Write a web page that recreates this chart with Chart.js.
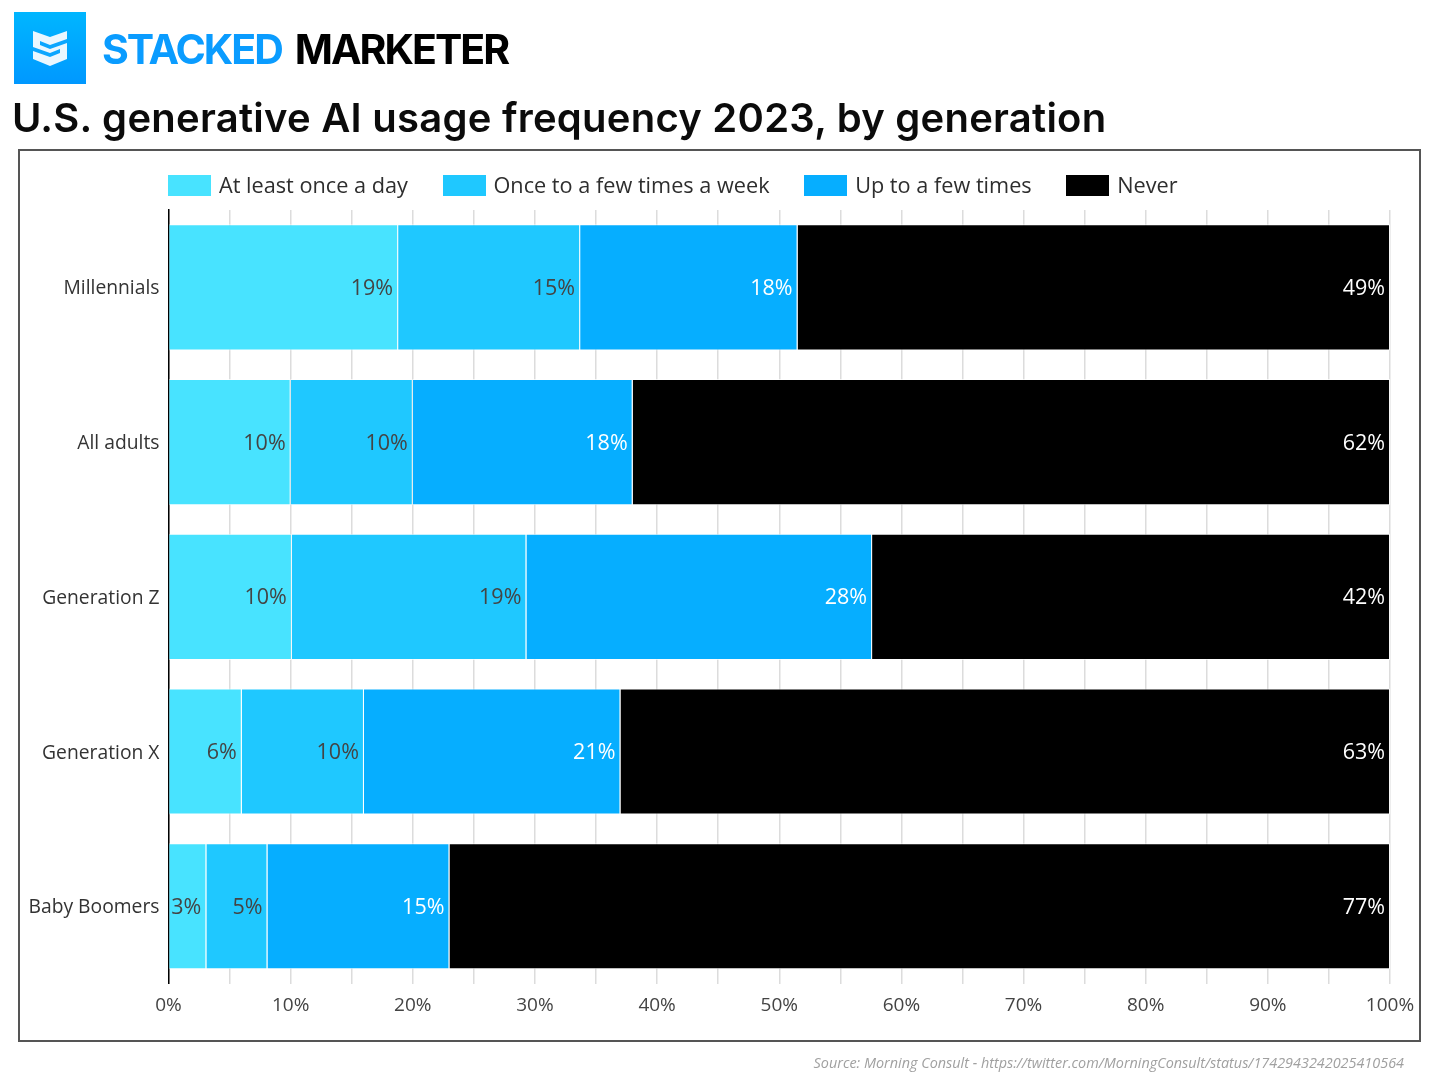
<!DOCTYPE html>
<html>
<head>
<meta charset="utf-8">
<title>U.S. generative AI usage frequency 2023, by generation</title>
<script src="https://cdn.jsdelivr.net/npm/chart.js@4"></script>
<style>
  html,body{margin:0;padding:0;background:#fff;}
  body{width:1433px;height:1074px;position:relative;overflow:hidden;}
  #logo{position:absolute;left:14px;top:12px;width:72px;height:72px;}
  #brand{position:absolute;left:102px;top:21px;font:700 41px/56px Inter,sans-serif;letter-spacing:-2px;white-space:nowrap;color:#000;}
  #brand span{color:#0a9cff;margin-right:13px;}
  #title{position:absolute;left:12px;top:92px;font:600 40px/52px Inter,sans-serif;letter-spacing:.25px;color:#0b0b0b;white-space:nowrap;}
  #frame{position:absolute;left:18px;top:149px;width:1399px;height:889px;border:2px solid #555;}
  #chart{position:absolute;left:0;top:0;}
  #legend{position:absolute;left:168px;top:174px;height:22px;display:flex;gap:34.6px;font:21.7px/22px "Open Sans",sans-serif;color:#2e2e2e;white-space:nowrap;}
  #legend div{display:flex;align-items:center;}
  #legend i{display:block;width:43px;height:21px;margin-right:8px;}
  #source{position:absolute;right:29px;top:1054px;font:italic 14.4px/18px "Open Sans",sans-serif;color:#a0a0a0;white-space:nowrap;}
</style>
</head>
<body>
<div id="frame"></div>
<canvas id="chart" width="1433" height="1074"></canvas>
<svg id="logo" viewBox="0 0 72 72">
  <defs><linearGradient id="lg" x1="0" y1="0" x2="0" y2="1"><stop offset="0" stop-color="#00b6ff"/><stop offset="1" stop-color="#0098ff"/></linearGradient></defs>
  <rect width="72" height="72" fill="url(#lg)"/>
  <path d="M19 19 L36 25 L53 19 V47 L36 54 L19 47 Z" fill="#eaf7ff"/>
  <path d="M26 29 L36 33 L53 27 V31 L36 37 L26 33 Z M19 35 L36 41 L46 37 V41 L36 45 L19 39 Z" fill="#0aa6ff"/>
</svg>
<div id="brand"><span>STACKED</span>MARKETER</div>
<div id="title">U.S. generative AI usage frequency 2023, by generation</div>
<div id="legend"></div>
<div id="source">Source: Morning Consult - https://twitter.com/MorningConsult/status/1742943242025410564</div>
<script>
const generations = ['Millennials','All adults','Generation Z','Generation X','Baby Boomers'];
const atLeastDaily = [18.8,10,10.1,6,3.1];
const weekly = [14.9,10,19.2,10,5];
const fewTimes = [17.8,18,28.3,21,14.9];
const never = [48.5,62,42.4,63,77];
const seriesNames = ['At least once a day','Once to a few times a week','Up to a few times','Never'];
const seriesColors = ['#48e3ff','#1fc8ff','#06aeff','#000000'];
const labelColors = ['#444','#444','#fff','#fff'];

const allValues = [atLeastDaily,weekly,fewTimes,never];
const FONT = '"Open Sans", sans-serif';

// --- HTML legend ---
(function(){
  const legendEl = document.getElementById('legend');
  seriesNames.forEach((name,i)=>{
    const item = document.createElement('div');
    const box = document.createElement('i');
    box.style.background = seriesColors[i];
    item.appendChild(box);
    item.appendChild(document.createTextNode(name));
    legendEl.appendChild(item);
  });
})();

// value labels, right aligned inside the end of each segment
const segmentLabels = {
  id:'segmentLabels',
  afterDatasetsDraw(chart){
    const {ctx} = chart;
    ctx.save();
    ctx.font = '21.5px '+FONT;
    ctx.textAlign = 'right';
    ctx.textBaseline = 'middle';
    chart.data.datasets.forEach((ds,i)=>{
      chart.getDatasetMeta(i).data.forEach((bar,j)=>{
        ctx.fillStyle = labelColors[i];
        ctx.fillText(Math.round(ds.data[j])+'%', bar.x-5, bar.y+1.5);
      });
    });
    ctx.restore();
  }
};

new Chart(document.getElementById('chart'), {
  type:'bar',
  data:{
    labels:generations,
    datasets:allValues.map((vals,i)=>({
      label:seriesNames[i],
      data:vals,
      backgroundColor:seriesColors[i],
      borderColor:'rgba(255,255,255,0.75)',
      borderWidth:1,
      barPercentage:0.815,
      categoryPercentage:1
    }))
  },
  plugins:[segmentLabels],
  options:{
    indexAxis:'y',
    responsive:false,
    animation:false,
    layout:{padding:{top:210,right:43,bottom:0,left:0}},
    plugins:{
      tooltip:{enabled:false},
      legend:{display:false}
    },
    scales:{
      x:{
        stacked:true,
        min:0,max:100,
        grid:{color:'#dcdcdc',lineWidth:1.5,drawTicks:false},
        border:{display:false},
        ticks:{
          stepSize:5,autoSkip:false,maxRotation:0,padding:11,color:'#444',
          font:{family:FONT,size:19},
          callback:v=>v%10===0 ? v+'%' : ''
        },
        afterFit(scale){ scale.height = 90.35; }
      },
      y:{
        stacked:true,
        grid:{display:false,drawTicks:false},
        border:{color:'#000',width:1.5},
        ticks:{padding:9,labelOffset:1.5,color:'#333',font:{family:FONT,size:19.3}},
        afterFit(scale){ scale.width = 168.5; }
      }
    }
  }
});
</script>
</body>
</html>
